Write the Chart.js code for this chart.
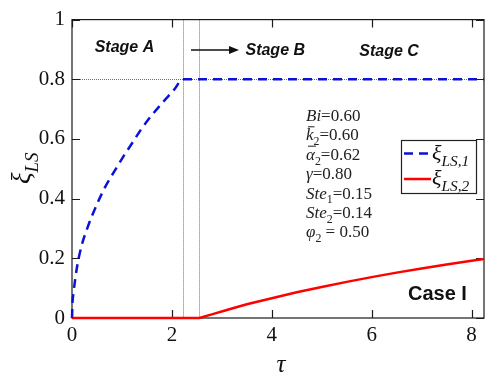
<!DOCTYPE html>
<html><head><meta charset="utf-8">
<script src="https://cdn.jsdelivr.net/npm/chart.js@4.4.1/dist/chart.umd.min.js"></script>
<style>html,body{margin:0;padding:0;background:#fff}#wrap{width:486px;height:375px}</style>
</head><body><div id="wrap"><canvas id="c" width="486" height="375"></canvas></div>
<script>
// ---- data ----
const tau1 = [0, 0.008, 0.034, 0.1, 0.19, 0.3, 0.39, 0.51, 0.66, 0.86, 1.04, 1.22, 1.4, 1.6, 1.84, 2.05, 2.22, 8.25];
const xi1  = [0, 0.045, 0.09, 0.17, 0.241, 0.298, 0.338, 0.385, 0.438, 0.495, 0.544, 0.59, 0.636, 0.68, 0.727, 0.766, 0.8, 0.8];
const tau2 = [0, 2.55, 2.8, 3.1, 3.5, 4, 4.5, 5, 5.5, 6, 6.5, 7, 7.5, 8, 8.25];
const xi2  = [0, 0, 0.012, 0.027, 0.046, 0.066, 0.086, 0.104, 0.121, 0.137, 0.152, 0.166, 0.179, 0.192, 0.198];
const stageBounds = [2.22, 2.54];
const refLevel = 0.8;
const stageLabels = ['Stage A', 'Stage B', 'Stage C'];
const caseLabel = 'Case I';
const xTicks = [0, 2, 4, 6, 8];
const yTicks = [0, 0.2, 0.4, 0.6, 0.8, 1];
const seriesNames = ['ξ_LS,1', 'ξ_LS,2'];
const params = [
  ['Bi', '=0.60'],
  ['k2bar', '=0.60'],
  ['a2bar', '=0.62'],
  ['γ', '=0.80'],
  ['Ste1', '=0.15'],
  ['Ste2', '=0.14'],
  ['φ2', ' = 0.50']
];

const pts = (xs, ys) => xs.map((x, i) => ({x, y: ys[i]}));

const SERIF = '"Liberation Serif", "DejaVu Serif", serif';
const SANS = '"Liberation Sans", Arial, sans-serif';

function drawRuns(ctx, x, y, runs, size) {
  let cx = x;
  for (const r of runs) {
    const fs = r.sub ? size * 0.7 : size;
    ctx.font = (r.it ? 'italic ' : '') + fs + 'px ' + SERIF;
    const dy = r.sub ? size * 0.28 : 0;
    ctx.fillText(r.t, cx, y + dy);
    const w = ctx.measureText(r.t).width;
    if (r.bar) {
      ctx.save();
      ctx.lineWidth = 1;
      ctx.beginPath();
      ctx.moveTo(cx + 2, y - size * 0.8);
      ctx.lineTo(cx + w + 1, y - size * 0.8);
      ctx.stroke();
      ctx.restore();
    }
    cx += w;
  }
  return cx;
}

function symRuns(key) {
  switch (key) {
    case 'Bi': return [{t:'Bi', it:true}];
    case 'k2bar': return [{t:'k', it:true, bar:true}, {t:'2', sub:true}];
    case 'a2bar': return [{t:'α', it:true, bar:true}, {t:'2', sub:true}];
    case 'γ': return [{t:'γ', it:true}];
    case 'Ste1': return [{t:'Ste', it:true}, {t:'1', sub:true}];
    case 'Ste2': return [{t:'Ste', it:true}, {t:'2', sub:true}];
    case 'φ2': return [{t:'φ', it:true}, {t:'2', sub:true}];
  }
  return [{t:key}];
}

const frame = {
  id: 'frame',
  beforeDatasetsDraw(chart) {
    const {ctx, chartArea: a, scales: {x, y}} = chart;
    ctx.save();
    ctx.strokeStyle = '#6e6e6e';
    ctx.lineWidth = 1;
    ctx.setLineDash([1, 1]);
    ctx.beginPath();
    const yr = Math.round(y.getPixelForValue(refLevel)) + 0.5;
    ctx.moveTo(a.left, yr); ctx.lineTo(a.right, yr);
    for (const b of stageBounds) {
      const xp = Math.round(x.getPixelForValue(b)) + 0.5;
      ctx.moveTo(xp, a.top); ctx.lineTo(xp, a.bottom);
    }
    ctx.stroke();
    ctx.setLineDash([]);
    ctx.strokeStyle = '#1a1a1a';
    ctx.lineWidth = 1.2;
    ctx.strokeRect(a.left, a.top, a.right - a.left, a.bottom - a.top);
    ctx.beginPath();
    for (const v of xTicks) {
      const xp = Math.round(x.getPixelForValue(v)) + 0.5;
      ctx.moveTo(xp, a.bottom); ctx.lineTo(xp, a.bottom - 8);
      ctx.moveTo(xp, a.top); ctx.lineTo(xp, a.top + 8);
    }
    for (const v of yTicks) {
      const yp = Math.round(y.getPixelForValue(v)) + 0.5;
      ctx.moveTo(a.left, yp); ctx.lineTo(a.left + 8, yp);
      ctx.moveTo(a.right, yp); ctx.lineTo(a.right - 8, yp);
    }
    ctx.stroke();
    ctx.restore();
  },
  afterDraw(chart) {
    const {ctx, chartArea: a, scales: {x, y}} = chart;
    ctx.save();
    ctx.fillStyle = '#111';
    ctx.strokeStyle = '#111';
    ctx.font = 'italic bold 16px ' + SANS;
    ctx.textAlign = 'center';
    ctx.textBaseline = 'middle';
    ctx.fillText(stageLabels[0], x.getPixelForValue(1.05), 48);
    ctx.fillText(stageLabels[1], x.getPixelForValue(4.07), 51);
    ctx.fillText(stageLabels[2], x.getPixelForValue(6.35), 52);
    const ax0 = 191, ax1 = 239, ay = 50;
    ctx.lineWidth = 1.5;
    ctx.beginPath(); ctx.moveTo(ax0, ay); ctx.lineTo(ax1 - 2, ay); ctx.stroke();
    ctx.beginPath(); ctx.moveTo(ax1, ay); ctx.lineTo(ax1 - 10, ay - 4); ctx.lineTo(ax1 - 10, ay + 4); ctx.closePath(); ctx.fill();
    ctx.font = 'bold 20px ' + SANS;
    ctx.textAlign = 'left';
    ctx.fillText(caseLabel, 408, 294);
    ctx.textBaseline = 'alphabetic';
    ctx.fillStyle = '#222'; ctx.strokeStyle = '#222';
    params.forEach((p, i) => {
      const by = 121 + i * 19.4;
      const cx = drawRuns(ctx, 306, by, symRuns(p[0]), 17);
      ctx.font = '17px ' + SERIF;
      ctx.fillText(p[1], cx, by);
    });
    const lx = 401.5, ly = 140.5, lw = 75, lh = 53;
    ctx.fillStyle = '#fff';
    ctx.fillRect(lx, ly, lw, lh);
    ctx.strokeStyle = '#222'; ctx.lineWidth = 1.2;
    ctx.strokeRect(lx, ly, lw, lh);
    chart.data.datasets.forEach((ds, i) => {
      const yy = 153.5 + i * 25.5;
      ctx.save();
      ctx.strokeStyle = ds.borderColor; ctx.lineWidth = ds.borderWidth;
      ctx.setLineDash(ds.borderDash || []);
      ctx.beginPath(); ctx.moveTo(404, yy); ctx.lineTo(431, yy); ctx.stroke();
      ctx.restore();
      ctx.fillStyle = '#111';
      const [base, sub] = seriesNames[i].split('_');
      drawRuns(ctx, 432, yy + 6, [{t: base, it:true}, {t: sub, it:true, sub:true}], 22);
    });
    ctx.fillStyle = '#111';
    ctx.font = 'italic 25px ' + SERIF;
    ctx.textAlign = 'center';
    ctx.fillText('τ', (a.left + a.right) / 2 + 3, 372);
    ctx.save();
    ctx.translate(30, 184);
    ctx.rotate(-Math.PI / 2);
    ctx.textAlign = 'left';
    drawRuns(ctx, 0, 0, [{t:'ξ', it:true}, {t:'LS', it:true, sub:true}], 27);
    ctx.restore();
    ctx.restore();
  }
};

new Chart(document.getElementById('c'), {
  type: 'line',
  data: {
    datasets: [
      {label: seriesNames[0], data: pts(tau1, xi1), borderColor: '#0a12d6', borderWidth: 2.5,
       borderDash: [9, 6], pointRadius: 0, cubicInterpolationMode: 'monotone', clip: false, fill: false},
      {label: seriesNames[1], data: pts(tau2, xi2), borderColor: '#ff0000', borderWidth: 2.5,
       pointRadius: 0, tension: 0, clip: false, fill: false}
    ]
  },
  options: {
    responsive: false,
    animation: false,
    events: [],
    layout: {padding: {top: 16, right: 2, left: 0, bottom: 0}},
    plugins: {legend: {display: false}, tooltip: {enabled: false}},
    scales: {
      x: {
        type: 'linear', min: 0, max: 8.25,
        grid: {display: false, drawTicks: false},
        border: {display: false},
        afterFit(s) { s.height = 57; },
        afterBuildTicks(s) { s.ticks = xTicks.map(v => ({value: v})); },
        ticks: {color: '#111', font: {family: SERIF, size: 21}, padding: 5, maxRotation: 0,
                callback: v => String(+v.toFixed(1))}
      },
      y: {
        min: 0, max: 1,
        grid: {display: false, drawTicks: false},
        border: {display: false},
        afterFit(s) { s.width = 72; },
        afterBuildTicks(s) { s.ticks = yTicks.map(v => ({value: v})); },
        ticks: {color: '#111', font: {family: SERIF, size: 21}, padding: 7,
                callback: v => String(+v.toFixed(1))}
      }
    }
  },
  plugins: [frame]
});
</script>
</body></html>
